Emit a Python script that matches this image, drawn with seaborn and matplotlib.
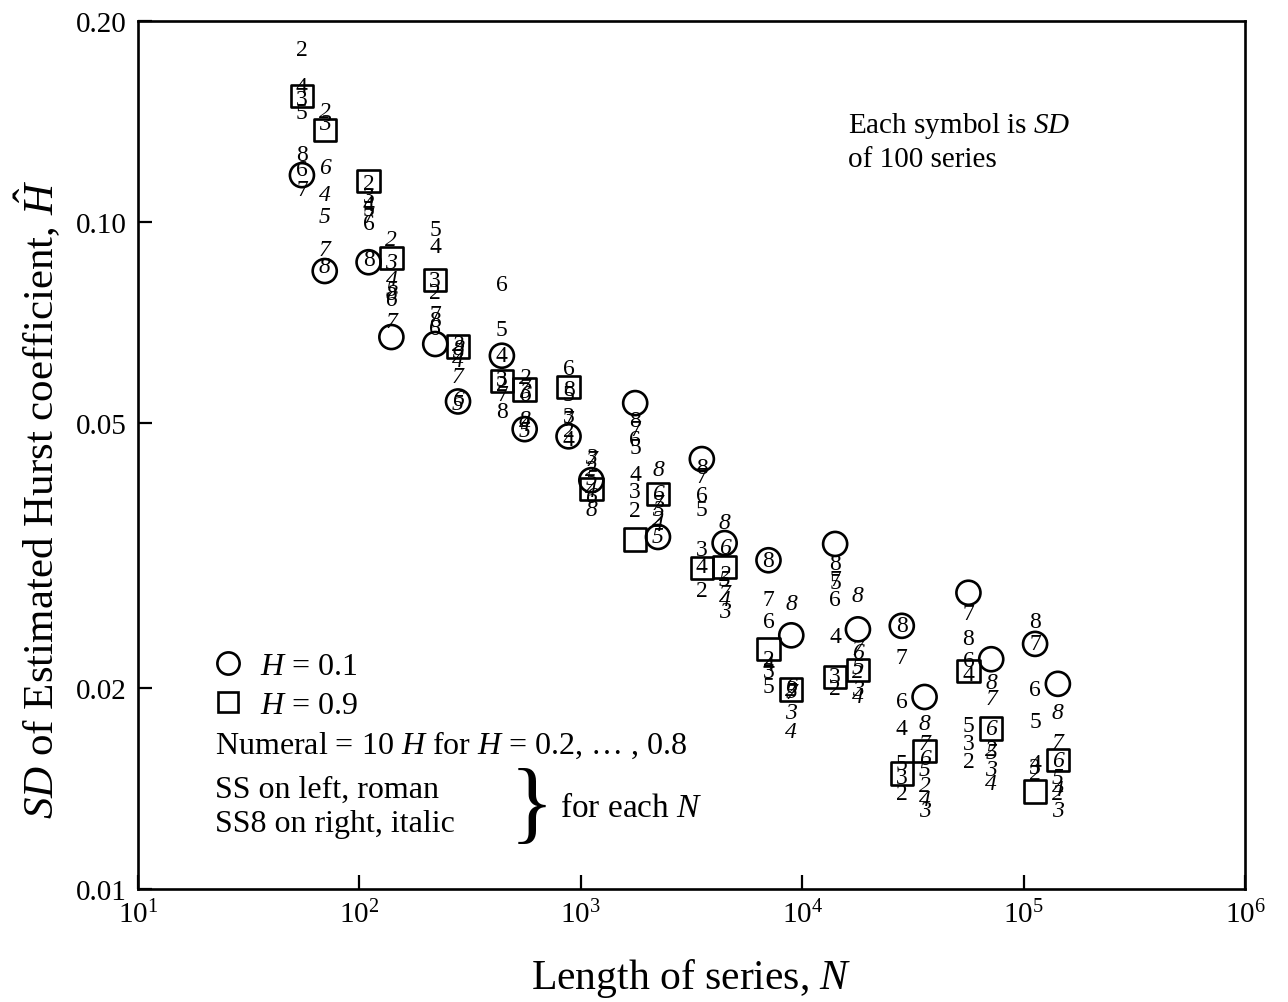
import numpy as np
import pandas as pd
import matplotlib.pyplot as plt
import seaborn as sns
from matplotlib.lines import Line2D

# series lengths N = 2^6 ... 2^17
n_values = [64, 128, 256, 512, 1024, 2048, 4096, 8192, 16384, 32768, 65536, 131072]
h_values = [0.1, 0.2, 0.3, 0.4, 0.5, 0.6, 0.7, 0.8, 0.9]

# SD of estimated H, one row per N, columns H = 0.1 ... 0.9
sd_ss = [
    [0.1175, 0.1816, 0.1528, 0.1593, 0.1461, 0.1200, 0.1120, 0.1264, 0.1544],
    [0.0870, 0.1140, 0.1090, 0.1063, 0.1045, 0.0993, 0.1017, 0.0879, 0.1151],
    [0.0656, 0.0785, 0.0818, 0.0920, 0.0973, 0.0691, 0.0727, 0.0712, 0.0818],
    [0.0630, 0.0571, 0.0581, 0.0630, 0.0689, 0.0807, 0.0551, 0.0520, 0.0577],
    [0.0477, 0.0486, 0.0510, 0.0472, 0.0552, 0.0602, 0.0506, 0.0561, 0.0565],
    [0.0535, 0.0369, 0.0394, 0.0418, 0.0459, 0.0472, 0.0489, 0.0503, 0.0334],
    [0.0441, 0.0280, 0.0323, 0.0304, 0.0371, 0.0389, 0.0415, 0.0429, 0.0303],
    [0.0311, 0.0221, 0.0212, 0.0217, 0.0201, 0.0252, 0.0272, 0.0311, 0.0229],
    [0.0329, 0.0200, 0.0208, 0.0239, 0.0288, 0.0272, 0.0291, 0.0307, 0.0208],
    [0.0248, 0.0139, 0.0147, 0.0174, 0.0154, 0.0191, 0.0222, 0.0248, 0.0149],
    [0.0278, 0.0155, 0.0165, 0.0210, 0.0176, 0.0220, 0.0259, 0.0237, 0.0212],
    [0.0233, 0.0149, 0.0152, 0.0154, 0.0178, 0.0199, 0.0233, 0.0252, 0.0140],
]
sd_ss8 = [
    [0.0844, 0.1466, 0.1402, 0.1098, 0.1017, 0.1208, 0.0910, 0.0856, 0.1373],
    [0.0672, 0.0942, 0.0870, 0.0821, 0.0793, 0.0766, 0.0710, 0.0780, 0.0882],
    [0.0538, 0.0656, 0.0640, 0.0619, 0.0535, 0.0542, 0.0587, 0.0645, 0.0650],
    [0.0489, 0.0585, 0.0557, 0.0497, 0.0486, 0.0552, 0.0565, 0.0506, 0.0561],
    [0.0410, 0.0426, 0.0444, 0.0395, 0.0412, 0.0387, 0.0441, 0.0371, 0.0398],
    [0.0337, 0.0358, 0.0371, 0.0352, 0.0337, 0.0391, 0.0378, 0.0426, 0.0391],
    [0.0330, 0.0296, 0.0261, 0.0272, 0.0291, 0.0325, 0.0277, 0.0354, 0.0304],
    [0.0240, 0.0199, 0.0184, 0.0172, 0.0198, 0.0201, 0.0197, 0.0268, 0.0199],
    [0.0245, 0.0212, 0.0199, 0.0194, 0.0215, 0.0226, 0.0229, 0.0275, 0.0213],
    [0.0194, 0.0143, 0.0131, 0.0136, 0.0151, 0.0157, 0.0165, 0.0177, 0.0161],
    [0.0221, 0.0162, 0.0151, 0.0144, 0.0160, 0.0174, 0.0193, 0.0204, 0.0174],
    [0.0203, 0.0139, 0.0131, 0.0141, 0.0147, 0.0156, 0.0166, 0.0184, 0.0156],
]

y_ticks = [0.01, 0.02, 0.05, 0.10, 0.20]
y_tick_labels = ["0.01", "0.02", "0.05", "0.10", "0.20"]

# SS drawn a little left of N, SS8 a little right
shift = {"SS": 0.86, "SS8": 1.09}

rows = []
for method, table in [("SS", sd_ss), ("SS8", sd_ss8)]:
    for n, vals in zip(n_values, table):
        for h, v in zip(h_values, vals):
            rows.append({"N": n, "method": method, "H": h, "sd": v,
                         "xpos": n * shift[method]})
df = pd.DataFrame(rows)

sns.set_style("ticks")
plt.rcParams["font.family"] = ["Liberation Serif", "DejaVu Serif"]
plt.rcParams["mathtext.fontset"] = "custom"
plt.rcParams["mathtext.rm"] = "Liberation Serif"
plt.rcParams["mathtext.it"] = "Liberation Serif:italic"
plt.rcParams["mathtext.bf"] = "Liberation Serif:bold"
plt.rcParams["text.color"] = "black"
plt.rcParams["axes.labelcolor"] = "black"
plt.rcParams["xtick.color"] = "black"
plt.rcParams["ytick.color"] = "black"
plt.rcParams["axes.edgecolor"] = "black"

fig = plt.figure(figsize=(12.88, 10.03), dpi=100)
ax = fig.add_axes([0.1071, 0.1127, 0.8595, 0.8653])

circ = df[df["H"] == 0.1]
sq = df[df["H"] == 0.9]
sns.scatterplot(data=circ, x="xpos", y="sd", marker="o", s=300, facecolor="none",
                edgecolor="black", linewidth=1.9, ax=ax, legend=False, zorder=3)
sns.scatterplot(data=sq, x="xpos", y="sd", marker="s", s=260, facecolor="none",
                edgecolor="black", linewidth=1.9, ax=ax, legend=False, zorder=3)

# numerals 2..8
nums = df[(df["H"] > 0.15) & (df["H"] < 0.85)]
for _, r in nums.iterrows():
    ax.text(r["xpos"], r["sd"], str(int(round(r["H"] * 10))), ha="center", va="center",
            fontsize=17, style="italic" if r["method"] == "SS8" else "normal", zorder=4)

ax.set_xscale("log")
ax.set_yscale("log")
ax.set_xlim(10, 1e6)
ax.set_ylim(0.01, 0.20)
ax.set_yticks(y_ticks)
ax.set_yticklabels(y_tick_labels)
ax.minorticks_off()
ax.tick_params(which="both", direction="in", length=10, width=1.6, labelsize=21, pad=8)
for sp in ax.spines.values():
    sp.set_linewidth(1.9)

ax.set_xlabel("Length of series, $N$", fontsize=30, labelpad=20)
ax.set_ylabel(r"$SD$ of Estimated Hurst coefficient, $\hat{H}$", fontsize=31)
ax.yaxis.set_label_coords(-0.068, 0.45)

# legend block
handles = [
    Line2D([], [], marker="o", ls="", mfc="none", mec="black", ms=16, mew=1.9, label="$H$ = 0.1"),
    Line2D([], [], marker="s", ls="", mfc="none", mec="black", ms=14, mew=1.9, label="$H$ = 0.9"),
]
ax.legend(handles=handles, loc="upper left", bbox_to_anchor=(0.05, 0.292), frameon=False,
          fontsize=23, handletextpad=0.4, labelspacing=0.3, borderpad=0, handlelength=1.2)
ax.text(0.07, 0.167, "Numeral = 10 $H$ for $H$ = 0.2, \u2026 , 0.8", transform=ax.transAxes,
        fontsize=23, va="center", ha="left")
ax.text(0.07, 0.115, "SS on left, roman", transform=ax.transAxes, fontsize=23, va="center")
ax.text(0.07, 0.075, "SS8 on right, italic", transform=ax.transAxes, fontsize=23, va="center")
ax.text(0.336, 0.092, "}", transform=ax.transAxes, fontsize=66, va="center", ha="left")
ax.text(0.381, 0.094, "for each $N$", transform=ax.transAxes, fontsize=24, va="center")

ax.text(0.641, 0.880, "Each symbol is $SD$", transform=ax.transAxes, fontsize=21, va="center")
ax.text(0.641, 0.841, "of 100 series", transform=ax.transAxes, fontsize=21, va="center")

fig.savefig("out.png", dpi=100)
